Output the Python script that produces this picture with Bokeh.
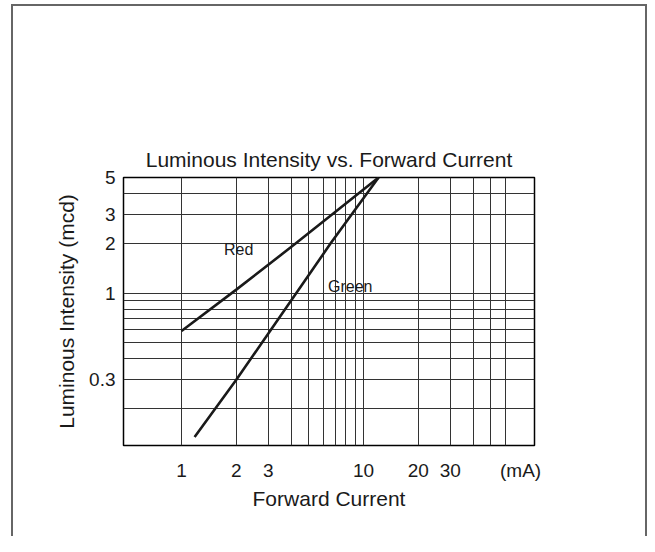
from bokeh.plotting import figure
from bokeh.models import FixedTicker, CustomJSTickFormatter, ColumnDataSource, Range1d
from bokeh.core.properties import value
from bokeh.embed import file_html
from bokeh.resources import INLINE

# ---- data ----
red_current = [1.0, 2.0, 4.2, 12.1]          # mA
red_intensity = [0.59, 1.05, 1.98, 5.0]      # mcd
green_current = [1.18, 2.0, 3.0, 6.6, 12.1]  # mA
green_intensity = [0.135, 0.30, 0.57, 2.0, 5.0]

x_tick_values = [1, 2, 3, 10, 20, 30]
x_unit_tick = 73
x_unit_label = "(mA)"
y_tick_values = [0.3, 1, 2, 3, 5]
x_grid_values = [1, 2, 3, 4, 5, 6, 7, 8, 9, 10, 20, 30, 40, 50, 60]
y_grid_values = [0.2, 0.3, 0.4, 0.5, 0.6, 0.7, 0.8, 0.9, 1, 2, 3, 4, 5]

series_names = ["Red", "Green"]
label_x = [2.06, 8.45]
label_y = [1.84, 1.10]

FONT = "Liberation Sans"
INK = "#1a1a1a"

p = figure(
    width=647, height=536,
    x_axis_type="log", y_axis_type="log",
    x_range=Range1d(0.48, 87), y_range=Range1d(0.12, 5),
    output_backend="svg", toolbar_location=None,
    min_border_left=123, min_border_right=113,
    min_border_top=177, min_border_bottom=91,
    title="Luminous Intensity vs. Forward Current",
)
p.border_fill_color = None
p.background_fill_color = "white"
# outer picture frame (left, top, right) drawn as inset shadows of the plot element
p.styles = {
    "box-shadow": "inset 11px 0 0 #ffffff, inset 0 4px 0 #ffffff, "
                  "inset 13px 0 0 #666666, inset 0 6px 0 #666666, "
                  "inset -2px 0 0 #666666",
}

p.title.align = "center"
p.title.text_font = FONT
p.title.text_font_style = "normal"
p.title.text_font_size = "21px"
p.title.text_color = INK
p.title.standoff = 14

p.outline_line_color = "black"
p.outline_line_width = 1.5
p.outline_line_alpha = 1.0

p.xgrid.ticker = FixedTicker(ticks=x_grid_values)
p.ygrid.ticker = FixedTicker(ticks=y_grid_values)
for g in (p.xgrid, p.ygrid):
    g.grid_line_color = "#333333"
    g.grid_line_width = 1
    g.grid_line_alpha = 1.0

xa = p.xaxis[0]
xa.ticker = FixedTicker(ticks=x_tick_values + [x_unit_tick])
xa.formatter = CustomJSTickFormatter(
    args=dict(unit_tick=x_unit_tick, unit_label=x_unit_label),
    code="return (Math.abs(tick - unit_tick) < 1e-6) ? unit_label : String(tick);",
)
xa.axis_label = "Forward Current"

ya = p.yaxis[0]
ya.ticker = FixedTicker(ticks=y_tick_values)
ya.formatter = CustomJSTickFormatter(code="return String(tick);")
ya.axis_label = "Luminous Intensity (mcd)"

for ax in (xa, ya):
    ax.axis_line_color = None
    ax.major_tick_line_color = None
    ax.minor_tick_line_color = None
    ax.major_tick_out = 0
    ax.major_tick_in = 0
    ax.major_label_text_font = FONT
    ax.major_label_text_font_size = "19px"
    ax.major_label_text_color = INK
    ax.axis_label_text_font = FONT
    ax.axis_label_text_font_style = "normal"
    ax.axis_label_text_font_size = "21px"
    ax.axis_label_text_color = INK

xa.major_label_standoff = 14
xa.axis_label_standoff = 3
ya.major_label_standoff = 8
ya.axis_label_standoff = 8

p.line(red_current, red_intensity, line_color=INK, line_width=2.6)
p.line(green_current, green_intensity, line_color=INK, line_width=2.6)

lbl = ColumnDataSource(dict(x=label_x, y=label_y, t=series_names))
p.text(x="x", y="y", text="t", source=lbl,
       text_font=value(FONT), text_font_size="16px", text_color=INK,
       text_align="center", text_baseline="middle")

open("out.html", "w").write(file_html(p, INLINE))
